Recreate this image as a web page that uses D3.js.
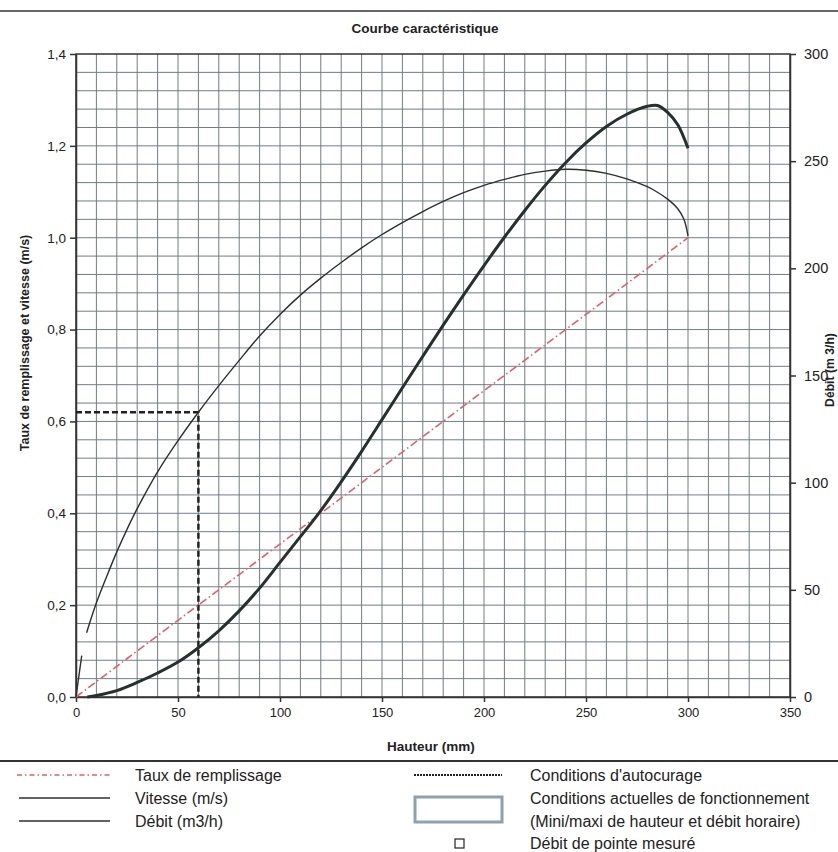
<!DOCTYPE html>
<html lang="fr">
<head>
<meta charset="UTF-8">
<title>Courbe caractéristique</title>
<script src="https://cdn.jsdelivr.net/npm/d3@7/dist/d3.min.js"></script>
<style>
  body { margin: 0; background: #fff; }
  text { font-family: "Liberation Sans", Arial, sans-serif; fill: #222; }
</style>
</head>
<body>
<svg width="838" height="852"></svg>
<script>
// données
const leftTicks = [0, 0.2, 0.4, 0.6, 0.8, 1.0, 1.2, 1.4];
const rightTicks = [0, 50, 100, 150, 200, 250, 300];
const xTicks = [0, 50, 100, 150, 200, 250, 300, 350];

// Taux de remplissage [hauteur mm, taux]
const taux = [[0, 0], [50, 0.167], [100, 0.333], [150, 0.5], [200, 0.667], [250, 0.833], [300, 1.0]];

// Vitesse (m/s) - petit segment au départ puis la courbe
const vitesseDebut = [[0, 0], [2.8, 0.09]];
const vitesse = [[5.2, 0.14], [10, 0.205], [15, 0.262], [20, 0.316], [25, 0.365], [30, 0.41],
  [40, 0.49], [50, 0.558], [60, 0.62], [70, 0.678], [80, 0.733], [90, 0.786], [100, 0.833],
  [110, 0.875], [120, 0.912], [130, 0.946], [140, 0.978], [150, 1.007], [160, 1.033],
  [170, 1.057], [180, 1.079], [190, 1.098], [200, 1.114], [210, 1.127], [220, 1.138],
  [230, 1.145], [240, 1.149], [250, 1.147], [260, 1.140], [270, 1.128], [280, 1.111],
  [285, 1.099], [290, 1.084], [295, 1.063], [298, 1.04], [300, 1.004]];

// Débit (m3/h)
const debit = [[5.5, 0], [10, 0.7], [20, 3], [30, 6.8], [40, 11.2], [50, 16.3], [60, 23],
  [70, 30.9], [80, 40.2], [90, 50.8], [100, 62.8], [110, 74.8], [120, 87], [130, 100.4],
  [140, 114.6], [150, 129.4], [160, 144.3], [170, 159], [180, 173.5], [190, 187.6], [200, 201.3],
  [210, 214.5], [220, 227], [230, 238.7], [240, 249.3], [250, 258.5], [260, 266.2], [270, 271.9],
  [280, 275.6], [285, 276], [290, 272.8], [295, 267], [300, 256]];

// conditions d'autocurage : hauteur 60 mm, vitesse 0,62
const autocurage = [[0, 0.62], [60, 0.62], [60, 0]];

const svg = d3.select("svg");
const margin = {top: 54, left: 76, right: 48, bottom: 155};
const W = 838 - margin.left - margin.right;
const H = 852 - margin.top - margin.bottom;

const x = d3.scaleLinear().domain([0, 350]).range([margin.left, margin.left + W]);
const y = d3.scaleLinear().domain([0, 1.4]).range([margin.top + H, margin.top]);
const y2 = d3.scaleLinear().domain([0, 300]).range([margin.top + H, margin.top]);

// lignes de séparation
svg.append("line").attr("x1", 0).attr("x2", 838).attr("y1", 11).attr("y2", 11)
  .attr("stroke", "#333").attr("stroke-width", 1.5);
svg.append("line").attr("x1", 0).attr("x2", 838).attr("y1", 761).attr("y2", 761)
  .attr("stroke", "#333").attr("stroke-width", 2);

svg.append("text").attr("x", 425).attr("y", 33).attr("text-anchor", "middle")
  .style("font-weight", "bold").style("font-size", "13.5px").text("Courbe caractéristique");

// grille
const grid = svg.append("g");
grid.selectAll(".gx").data(d3.range(10, 350, 10)).join("line")
  .attr("x1", d => x(d)).attr("x2", d => x(d)).attr("y1", y(0)).attr("y2", y(1.4))
  .attr("stroke", "#707d85").attr("stroke-width", 1);
grid.selectAll(".gy").data(d3.range(1, 35).map(i => i * 0.04)).join("line")
  .attr("x1", x(0)).attr("x2", x(350)).attr("y1", d => y(d)).attr("y2", d => y(d))
  .attr("stroke", "#707d85").attr("stroke-width", 1);

svg.append("rect").attr("x", x(0)).attr("y", y(1.4)).attr("width", W).attr("height", H)
  .attr("fill", "none").attr("stroke", "#333").attr("stroke-width", 1.5);

// axes
const fr = d => d3.format(".1f")(d).replace(".", ",");
const axL = svg.append("g").attr("transform", `translate(${x(0)},0)`)
  .call(d3.axisLeft(y).tickValues(leftTicks).tickFormat(fr).tickSize(6).tickSizeOuter(0).tickPadding(4));
const axR = svg.append("g").attr("transform", `translate(${x(350)},0)`)
  .call(d3.axisRight(y2).tickValues(rightTicks).tickSize(6).tickSizeOuter(0).tickPadding(8));
const axB = svg.append("g").attr("transform", `translate(0,${y(0)})`)
  .call(d3.axisBottom(x).tickValues(xTicks).tickSize(5).tickSizeOuter(0).tickPadding(6));
[axL, axR, axB].forEach(a => {
  a.selectAll("path, line").attr("stroke", "#333").attr("stroke-width", 1.5);
  a.selectAll("text").style("font-family", "'Liberation Sans', Arial, sans-serif").attr("fill", "#222");
});
axL.selectAll("text").style("font-size", "13.5px");
axR.selectAll("text").style("font-size", "14.5px");
axB.selectAll("text").style("font-size", "13px");

svg.append("text").attr("x", 431).attr("y", 751).attr("text-anchor", "middle")
  .style("font-weight", "bold").style("font-size", "13.5px").text("Hauteur (mm)");
svg.append("text").attr("transform", "translate(29,343) rotate(-90)").attr("text-anchor", "middle")
  .style("font-weight", "bold").style("font-size", "12.5px").text("Taux de remplissage et vitesse (m/s)");
svg.append("text").attr("transform", "translate(834,370) rotate(-90)").attr("text-anchor", "middle")
  .style("font-weight", "bold").style("font-size", "12.2px").text("Débit (m 3/h)");

// courbes
const lineL = d3.line().x(d => x(d[0])).y(d => y(d[1]));
const lineLs = d3.line().x(d => x(d[0])).y(d => y(d[1])).curve(d3.curveCatmullRom.alpha(0.5));
const lineR = d3.line().x(d => x(d[0])).y(d => y2(d[1])).curve(d3.curveCatmullRom.alpha(0.5));

svg.append("path").datum(autocurage).attr("d", lineL).attr("fill", "none")
  .attr("stroke", "#222").attr("stroke-width", 2.5).attr("stroke-dasharray", "6,3");

svg.append("path").datum(taux).attr("d", lineL).attr("fill", "none")
  .attr("stroke", "#e2606c").attr("stroke-width", 1.6).attr("stroke-dasharray", "8,3,1.5,3");

svg.append("path").datum(vitesseDebut).attr("d", lineL).attr("fill", "none")
  .attr("stroke", "#2b302e").attr("stroke-width", 1.4);
svg.append("path").datum(vitesse).attr("d", lineLs).attr("fill", "none")
  .attr("stroke", "#2b302e").attr("stroke-width", 1.4);

svg.append("path").datum(debit).attr("d", lineR).attr("fill", "none")
  .attr("stroke", "#26302c").attr("stroke-width", 3);

// légende
const lg = svg.append("g").style("font-size", "16px");
const rows = [775, 798, 821, 843];
lg.append("line").attr("x1", 17).attr("x2", 110).attr("y1", rows[0]).attr("y2", rows[0])
  .attr("stroke", "#e2606c").attr("stroke-width", 1.6).attr("stroke-dasharray", "5,3,1.5,3");
lg.append("line").attr("x1", 19).attr("x2", 110).attr("y1", rows[1]).attr("y2", rows[1])
  .attr("stroke", "#2b302e").attr("stroke-width", 1.6);
lg.append("line").attr("x1", 19).attr("x2", 110).attr("y1", rows[2]).attr("y2", rows[2])
  .attr("stroke", "#2b302e").attr("stroke-width", 1.6);
lg.append("line").attr("x1", 414).attr("x2", 502).attr("y1", rows[0]).attr("y2", rows[0])
  .attr("stroke", "#222").attr("stroke-width", 2).attr("stroke-dasharray", "2,1");
lg.append("rect").attr("x", 415).attr("y", 797).attr("width", 87).attr("height", 25)
  .attr("fill", "none").attr("stroke", "#8fa0ae").attr("stroke-width", 3);
lg.append("rect").attr("x", 455).attr("y", rows[3] - 4).attr("width", 9).attr("height", 9)
  .attr("fill", "none").attr("stroke", "#222").attr("stroke-width", 1.2);

const legTexts = [
  [135, rows[0], "Taux de remplissage"], [135, rows[1], "Vitesse (m/s)"], [135, rows[2], "Débit (m3/h)"],
  [530, rows[0], "Conditions d'autocurage"], [530, rows[1], "Conditions actuelles de fonctionnement"],
  [530, rows[2], "(Mini/maxi de hauteur et débit horaire)"], [530, rows[3], "Débit de pointe mesuré"]
];
lg.selectAll(".lt").data(legTexts).join("text")
  .attr("x", d => d[0]).attr("y", d => d[1] + 5.5).text(d => d[2]);
</script>
</body>
</html>
